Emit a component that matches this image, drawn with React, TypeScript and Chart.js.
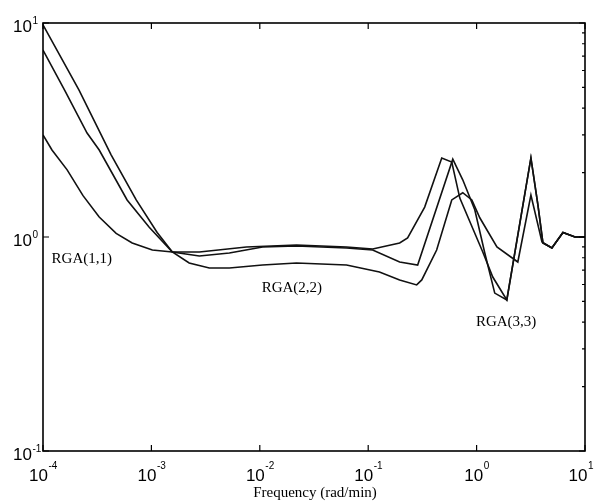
import React, { useEffect, useRef } from "react";
import { Chart, registerables } from "chart.js";

Chart.register(...registerables);

// ---- data ----
const freqA = [1e-4, 1.21e-4, 1.67e-4, 2.34e-4, 3.3e-4, 4.73e-4, 6.65e-4, 1.02e-3, 1.56e-3, 2.77e-3, 7.52e-3, 2.18e-2, 6.31e-2, 0.11, 0.195, 0.231, 0.332, 0.477, 0.59, 0.7, 1.14, 1.41, 1.9, 3.17, 3.68, 4.09, 4.95, 6.26, 8.09, 10];
const rgaA = [3.0, 2.55, 2.06, 1.56, 1.24, 1.04, 0.938, 0.869, 0.851, 0.851, 0.898, 0.918, 0.898, 0.879, 0.938, 0.99, 1.38, 2.34, 2.24, 1.52, 0.851, 0.65, 0.508, 2.34, 1.41, 0.938, 0.889, 1.05, 1.0, 1.0];

const freqB = [1e-4, 1.6e-4, 2.55e-4, 3.3e-4, 5.97e-4, 9.55e-4, 1.56e-3, 2.77e-3, 5.24e-3, 1.06e-2, 2.18e-2, 6.31e-2, 0.11, 0.195, 0.286, 0.603, 0.745, 0.962, 1.19, 1.47, 1.9, 3.17, 3.68, 4.09, 4.95, 6.26, 8.09, 10];
const rgaB = [7.47, 4.8, 3.06, 2.55, 1.49, 1.11, 0.851, 0.815, 0.842, 0.898, 0.908, 0.889, 0.869, 0.764, 0.74, 2.31, 1.85, 1.34, 0.842, 0.547, 0.508, 2.34, 1.41, 0.938, 0.889, 1.05, 1.0, 1.0];

const freqC = [1e-4, 2.15e-4, 4.25e-4, 7.24e-4, 1.13e-3, 1.56e-3, 2.23e-3, 3.42e-3, 5.24e-3, 1.06e-2, 2.18e-2, 6.31e-2, 0.127, 0.195, 0.28, 0.312, 0.428, 0.59, 0.745, 0.904, 1.07, 1.54, 2.4, 3.17, 4.01, 4.95, 6.26, 8.09, 10];
const rgaC = [9.79, 4.86, 2.42, 1.49, 1.05, 0.851, 0.756, 0.716, 0.716, 0.74, 0.756, 0.74, 0.686, 0.63, 0.597, 0.63, 0.869, 1.49, 1.61, 1.49, 1.23, 0.898, 0.764, 1.57, 0.948, 0.889, 1.05, 1.0, 1.0];

const xDecades = [-4, -3, -2, -1, 0, 1];
const yDecades = [-1, 0, 1];
const xTitle = "Frequency (rad/min)";

const labelTexts = ["RGA(1,1)", "RGA(2,2)", "RGA(3,3)"];
const labelFreq = [1.2e-4, 1.04e-2, 0.985];
const labelRga = [0.788, 0.578, 0.401];

const SANS = '"Liberation Sans", Arial, Helvetica, sans-serif';
const SERIF = '"Liberation Serif", "Times New Roman", serif';

function toPoints(xs: number[], ys: number[]) {
  return xs.map((x, i) => ({ x, y: ys[i] }));
}

const framePlugin = {
  id: "frame",
  afterDraw(chart: any) {
    const { ctx, chartArea: a, scales, width } = chart;
    const sx = scales.x;
    const sy = scales.y;
    ctx.save();
    ctx.strokeStyle = "#000";
    ctx.fillStyle = "#000";
    ctx.lineWidth = 1.6;
    ctx.strokeRect(a.left, a.top, a.right - a.left, a.bottom - a.top);

    // major ticks
    ctx.lineWidth = 1.2;
    ctx.beginPath();
    xDecades.forEach((e) => {
      const px = sx.getPixelForValue(Math.pow(10, e));
      ctx.moveTo(px, a.bottom);
      ctx.lineTo(px, a.bottom - 6);
      ctx.moveTo(px, a.top);
      ctx.lineTo(px, a.top + 6);
    });
    yDecades.forEach((e) => {
      const py = sy.getPixelForValue(Math.pow(10, e));
      ctx.moveTo(a.left, py);
      ctx.lineTo(a.left + 6, py);
      ctx.moveTo(a.right, py);
      ctx.lineTo(a.right - 6, py);
    });
    // minor ticks on right edge
    [-1, 0].forEach((d) => {
      for (let k = 2; k <= 9; k++) {
        const py = sy.getPixelForValue(k * Math.pow(10, d));
        ctx.moveTo(a.right, py);
        ctx.lineTo(a.right - 3, py);
      }
    });
    ctx.stroke();

    // tick labels with superscripts
    const big = "17px " + SANS;
    const small = "10px " + SANS;
    ctx.textBaseline = "alphabetic";
    ctx.textAlign = "left";
    yDecades.forEach((e) => {
      const py = sy.getPixelForValue(Math.pow(10, e));
      ctx.font = big;
      const w = ctx.measureText("10").width;
      const x0 = a.left - 11 - w;
      ctx.fillText("10", x0, py + 9);
      ctx.font = small;
      ctx.fillText(String(e), x0 + w + 0.5, py + 1);
    });
    xDecades.forEach((e) => {
      const px = sx.getPixelForValue(Math.pow(10, e));
      ctx.font = big;
      const w = ctx.measureText("10").width;
      ctx.font = small;
      const w2 = ctx.measureText(String(e)).width;
      let x0 = px - (w + w2) / 2;
      if (x0 + w + w2 > width - 2) x0 = width - 2 - w - w2;
      ctx.font = big;
      ctx.fillText("10", x0, a.bottom + 30);
      ctx.font = small;
      ctx.fillText(String(e), x0 + w + 0.5, a.bottom + 18);
    });

    // axis title
    ctx.font = "15px " + SERIF;
    ctx.textAlign = "center";
    ctx.fillText(xTitle, (a.left + a.right) / 2 + 1, a.bottom + 46);

    // curve labels
    ctx.font = "15px " + SERIF;
    ctx.textAlign = "left";
    ctx.textBaseline = "middle";
    labelTexts.forEach((t, i) => {
      ctx.fillText(t, sx.getPixelForValue(labelFreq[i]), sy.getPixelForValue(labelRga[i]));
    });
    ctx.restore();
  },
};

export default function App() {
  const ref = useRef<HTMLCanvasElement | null>(null);
  useEffect(() => {
    document.body.style.margin = "0";
    if (!ref.current) return;
    const line = (xs: number[], ys: number[]) => ({
      data: toPoints(xs, ys),
      borderColor: "#111",
      borderWidth: 1.6,
      pointRadius: 0,
      tension: 0,
      fill: false,
    });
    const chart = new Chart(ref.current, {
      type: "line",
      data: {
        datasets: [line(freqA, rgaA), line(freqB, rgaB), line(freqC, rgaC)],
      },
      options: {
        animation: false,
        responsive: false,
        layout: { padding: { left: 43, right: 10, top: 23, bottom: 51 } },
        plugins: { legend: { display: false }, tooltip: { enabled: false } },
        scales: {
          x: { type: "logarithmic", min: 1e-4, max: 10, display: false },
          y: { type: "logarithmic", min: 0.1, max: 10, display: false },
        },
      },
      plugins: [framePlugin],
    } as any);
    return () => chart.destroy();
  }, []);
  return (
    <div style={{ position: "fixed", left: 0, top: 0, width: 595, height: 502, background: "#fff" }}>
      <canvas ref={ref} width={595} height={502} />
    </div>
  );
}
